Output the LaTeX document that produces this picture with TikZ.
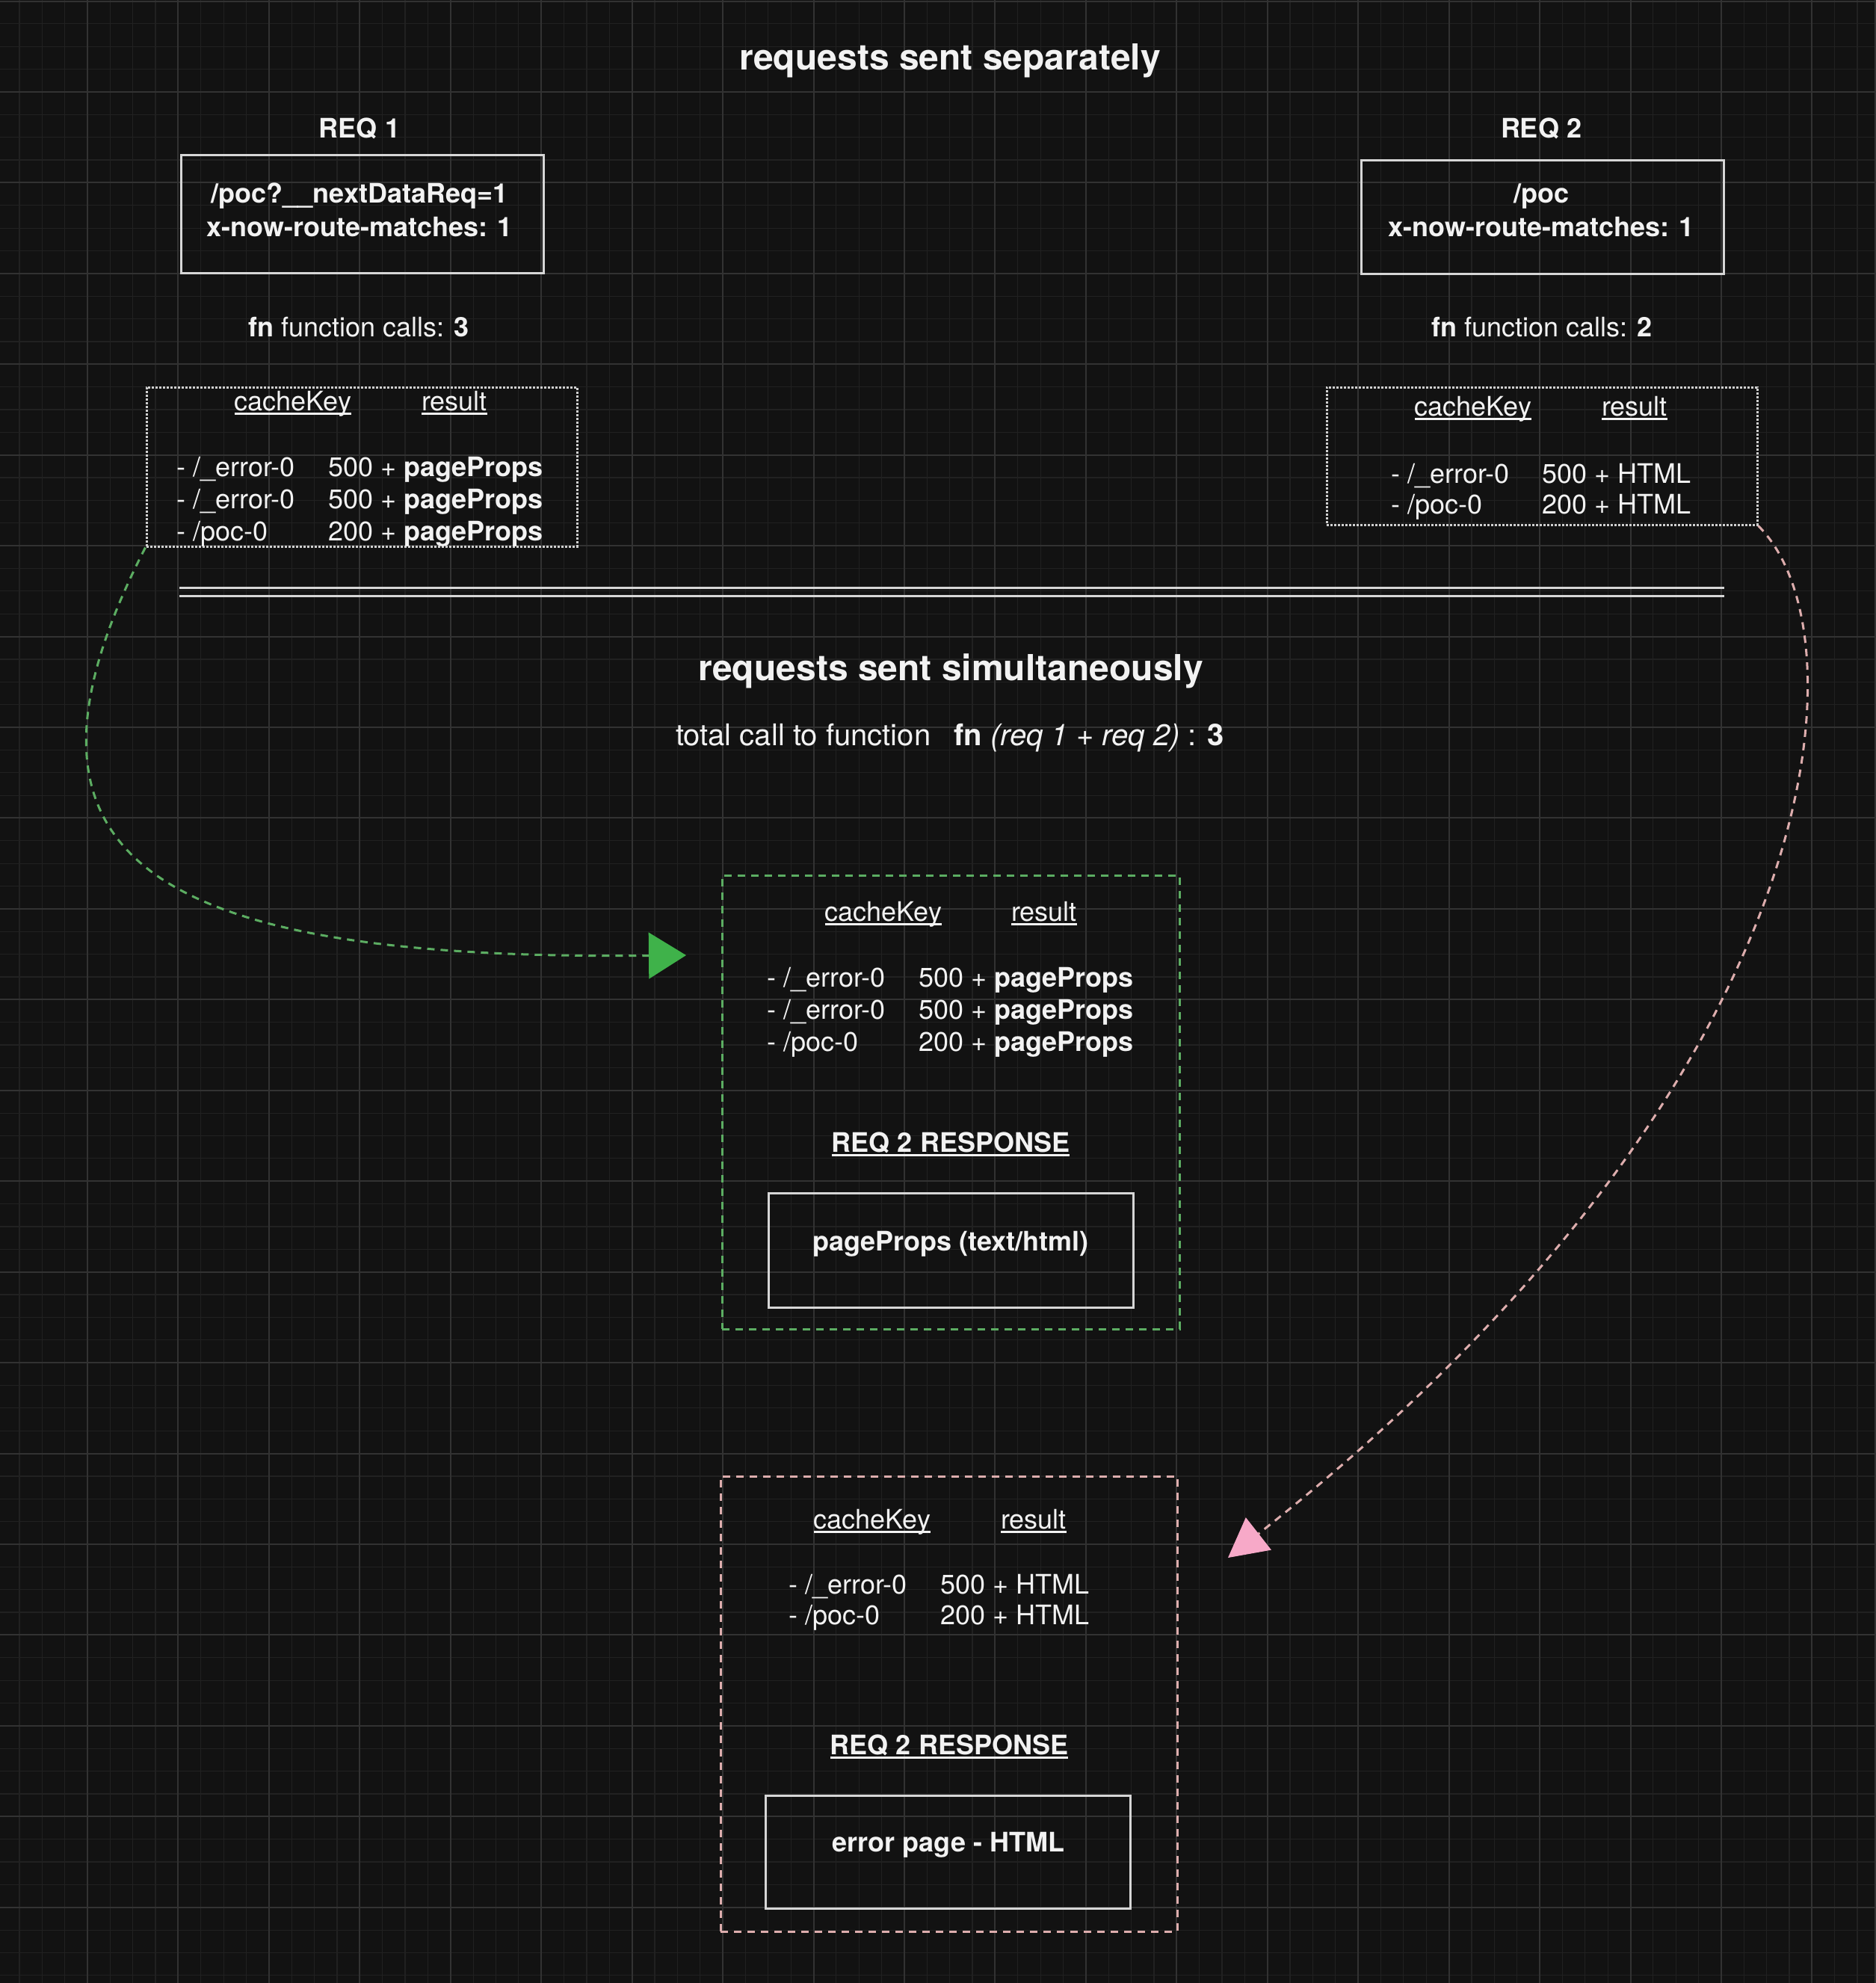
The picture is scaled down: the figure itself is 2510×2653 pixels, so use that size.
\documentclass[tikz,border=0pt]{standalone}
\usepackage{fontspec}
\setmainfont{TeX Gyre Heros}
\usetikzlibrary{arrows.meta}
\definecolor{bgc}{HTML}{121212}
\definecolor{gridminorc}{HTML}{212121}
\definecolor{gridmajorc}{HTML}{323232}
\definecolor{txtc}{HTML}{F2F2F2}
\definecolor{boxc}{HTML}{D6D6D6}
\definecolor{dotc}{HTML}{D0D0D0}
\definecolor{gdash}{HTML}{5CAD62}
\definecolor{garrow}{HTML}{3FB24A}
\definecolor{pdash}{HTML}{DDADAD}
\definecolor{parrow}{HTML}{F7A9C8}
\newcommand{\fsz}{\fontsize{36}{43}\selectfont}
\newcommand{\ftitle}{\fontsize{48}{58}\selectfont\bfseries}
\newcommand{\fsub}{\fontsize{40}{48}\selectfont}
\newsavebox\ulbox
\newcommand{\myul}[1]{\sbox\ulbox{#1}\rlap{\rule[-5pt]{\wd\ulbox}{2.2pt}}\usebox\ulbox}
\begin{document}
\begin{tikzpicture}[x=1pt,y=-1pt,
  gridminor/.style={draw=gridminorc,line width=1.2pt},
  gridmajor/.style={draw=gridmajorc,line width=2pt},
  txt/.style={text=txtc,font=\fsz,inner sep=0pt,anchor=mid,yshift=-9pt},
  ttl/.style={txt,font=\ftitle,yshift=-4pt},
  cell/.style={txt,anchor=mid west},
  sbox/.style={draw=boxc,line width=3pt,inner sep=0pt},
  dotbox/.style={draw=dotc,line width=3pt,dash pattern=on 3pt off 2pt,inner sep=0pt},
  gbox/.style={draw=gdash,line width=3pt,dash pattern=on 10pt off 8pt,inner sep=0pt},
  pbox/.style={draw=pdash,line width=3pt,dash pattern=on 10pt off 8pt,inner sep=0pt},
  sepline/.style={draw=boxc,line width=3pt},
  gline/.style={draw=gdash,line width=3pt,dash pattern=on 10pt off 8pt},
  pline/.style={draw=pdash,line width=3pt,dash pattern=on 10pt off 8pt}]
\useasboundingbox (0,0) rectangle (2510,2653);
\fill[bgc] (0,0) rectangle (2510,2653);
% grid
\foreach \i in {0,...,82} \draw[gridminor] ({25.9+\i*30.36},0) -- ({25.9+\i*30.36},2653);
\foreach \j in {0,...,87} \draw[gridminor] (0,{1.5+\j*30.36}) -- (2510,{1.5+\j*30.36});
\foreach \i in {0,...,19} \draw[gridmajor] ({117+\i*121.44},0) -- ({117+\i*121.44},2653);
\foreach \j in {0,...,21} \draw[gridmajor] (0,{1.5+\j*121.44}) -- (2510,{1.5+\j*121.44});
\draw[gridmajor] (2508.5,0) -- (2508.5,2653);

% ---------- top section ----------
\node[ttl] (title1) at (1271,78) {requests sent separately};

% REQ 1
\node[txt,font=\fsz\bfseries] (req1) at (481,173) {REQ 1};
\node[sbox,minimum width=485pt,minimum height=158pt] (r1box) at (484.5,286) {};
\node[txt,font=\fsz\bfseries] (r1l1) at (481,260) {/poc?\_\_nextDataReq=1};
\node[txt,font=\fsz\bfseries] (r1l2) at (481,305) {x-now-route-matches: 1};
\node[txt] (r1calls) at (480,439) {\textbf{fn} function calls: \textbf{3}};
\node[dotbox,minimum width=576pt,minimum height=213pt] (t1) at (484,624.5) {};
\node[txt] (t1h1) at (392,538) {\myul{cacheKey}};
\node[txt] (t1h2) at (608,538) {\myul{result}};
\node[cell] (t1a1) at (236,626) {- /\_error-0};
\node[cell] (t1b1) at (439,626) {500 + \textbf{pageProps}};
\node[cell] (t1a2) at (236,669) {- /\_error-0};
\node[cell] (t1b2) at (439,669) {500 + \textbf{pageProps}};
\node[cell] (t1a3) at (236,712) {- /poc-0};
\node[cell] (t1b3) at (439,712) {200 + \textbf{pageProps}};

% REQ 2
\node[txt,font=\fsz\bfseries] (req2) at (2062,173) {REQ 2};
\node[sbox,minimum width=485pt,minimum height=152pt] (r2box) at (2063.5,290) {};
\node[txt,font=\fsz\bfseries] (r2l1) at (2062,260) {/poc};
\node[txt,font=\fsz\bfseries] (r2l2) at (2062,305) {x-now-route-matches: 1};
\node[txt] (r2calls) at (2063,439) {\textbf{fn} function calls: \textbf{2}};
\node[dotbox,minimum width=576pt,minimum height=184pt] (t2) at (2063,610) {};
\node[txt] (t2h1) at (1971,545) {\myul{cacheKey}};
\node[txt] (t2h2) at (2187,545) {\myul{result}};
\node[cell] (t2a1) at (1861,635) {- /\_error-0};
\node[cell] (t2b1) at (2063,635) {500 + HTML};
\node[cell] (t2a2) at (1861,676) {- /poc-0};
\node[cell] (t2b2) at (2063,676) {200 + HTML};

% separator
\coordinate (dlA) at (240,786);
\coordinate (dlB) at (2307,786);
\coordinate (dlC) at (240,797);
\coordinate (dlD) at (2307,797);
\draw[sepline] (dlA) -- (dlB);
\draw[sepline] (dlC) -- (dlD);

% ---------- bottom section ----------
\node[ttl] (title2) at (1272,895) {requests sent simultaneously};
\node[txt,font=\fsub,yshift=-2pt] (sub) at (1271,984) {total call to function\hspace{20pt} \textbf{fn} \textit{(req 1 + req 2)} : \textbf{3}};

% green box
\node[gbox,minimum width=612pt,minimum height=607pt] (gb) at (1272,1474.5) {};
\node[txt] (gh1) at (1182,1221) {\myul{cacheKey}};
\node[txt] (gh2) at (1397,1221) {\myul{result}};
\node[cell] (ga1) at (1026,1309) {- /\_error-0};
\node[cell] (gb1) at (1229,1309) {500 + \textbf{pageProps}};
\node[cell] (ga2) at (1026,1352) {- /\_error-0};
\node[cell] (gb2) at (1229,1352) {500 + \textbf{pageProps}};
\node[cell] (ga3) at (1026,1395) {- /poc-0};
\node[cell] (gb3) at (1229,1395) {200 + \textbf{pageProps}};
\node[txt,font=\fsz\bfseries] (gresp) at (1272,1530) {\myul{REQ 2 RESPONSE}};
\node[sbox,minimum width=488pt,minimum height=153pt] (gin) at (1272,1672.5) {};
\node[txt,font=\fsz\bfseries] (gintxt) at (1272,1662) {pageProps (text/html)};

% pink box
\node[pbox,minimum width=611pt,minimum height=609pt] (pb) at (1269.5,2279.5) {};
\node[txt] (ph1) at (1167,2034) {\myul{cacheKey}};
\node[txt] (ph2) at (1383,2034) {\myul{result}};
\node[cell] (pa1) at (1055,2121) {- /\_error-0};
\node[cell] (pb1) at (1258,2121) {500 + HTML};
\node[cell] (pa2) at (1055,2162) {- /poc-0};
\node[cell] (pb2) at (1258,2162) {200 + HTML};
\node[txt,font=\fsz\bfseries] (presp) at (1270,2336) {\myul{REQ 2 RESPONSE}};
\node[sbox,minimum width=488pt,minimum height=151pt] (pin) at (1268,2477.5) {};
\node[txt,font=\fsz\bfseries] (pintxt) at (1269,2466) {error page - HTML};

% connectors
\coordinate (gtip) at (918,1278);
\coordinate (ptip) at (1643,2084);
\draw[gline,-{Triangle[length=50pt,width=62pt,color=garrow,fill=garrow,line width=1pt]}]
  (t1.south west) .. controls (-20,1150) and (200,1285) .. (gtip);
\draw[pline,-{Triangle[length=52pt,width=55pt,color=parrow,fill=parrow,line width=1pt]}]
  (t2.south east) .. controls (2500,850) and (2450,1450) .. (ptip);
\end{tikzpicture}
\end{document}
